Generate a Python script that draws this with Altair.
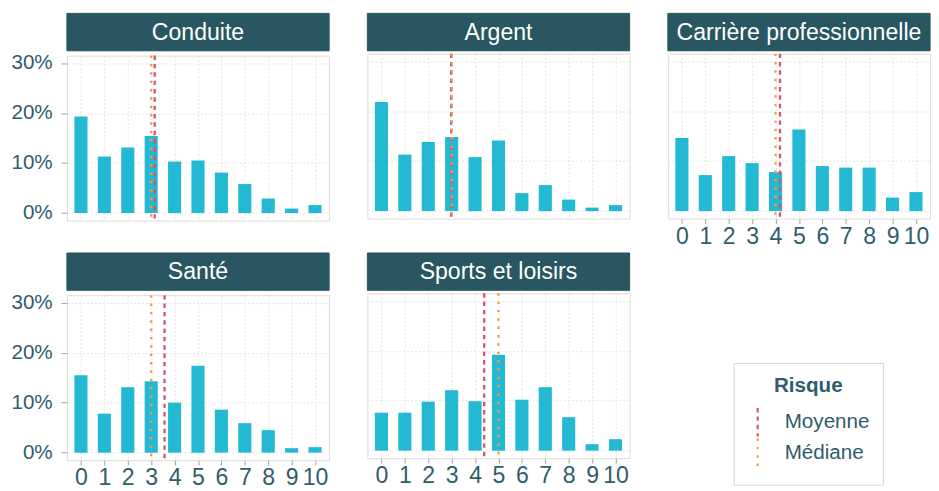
import altair as alt
import pandas as pd

# ---------------- data ----------------
categories = list(range(11))
panels = ["Conduite", "Argent", "Carrière professionnelle", "Santé", "Sports et loisirs"]
conduite = [19.3, 11.3, 13.1, 15.4, 10.3, 10.5, 8.1, 5.8, 2.9, 0.9, 1.6]
argent = [21.8, 11.3, 13.8, 14.8, 10.8, 14.1, 3.6, 5.2, 2.3, 0.7, 1.2]
carriere = [14.6, 7.2, 11.0, 9.6, 7.8, 16.3, 9.0, 8.7, 8.7, 2.7, 3.8]
sante = [15.5, 7.8, 13.1, 14.3, 10.0, 17.4, 8.6, 5.9, 4.5, 0.9, 1.1]
sports = [7.6, 7.6, 9.8, 12.1, 9.9, 19.2, 10.2, 12.7, 6.7, 1.3, 2.3]
means = [3.15, 2.98, 4.19, 3.57, 4.39]
medians = [3, 3, 4, 3, 5]
stat_names = ["Moyenne", "Médiane"]
y_ticks = [0, 0.1, 0.2, 0.3]

series = [conduite, argent, carriere, sante, sports]

rows = []
for p, vals in zip(panels, series):
    for c, v in zip(categories, vals):
        rows.append({"panel": p, "score": c, "pct": v / 100.0})
df = pd.DataFrame(rows)

stat_rows = []
for p, m, md in zip(panels, means, medians):
    stat_rows.append({"panel": p, "stat": stat_names[0], "value": m})
    stat_rows.append({"panel": p, "stat": stat_names[1], "value": md})
stats = pd.DataFrame(stat_rows)

# ---------------- style ----------------
W, H, HH = 267, 168, 38
FONT = "Liberation Sans"
TEXT = "#2f5d6b"
HEAD = "#285661"
BAR = "#24b9d3"
MEAN = "#d4547a"
MED = "#f0a23a"
GRID = "#e3e3e3"
TICK = "#a0a0a0"

xscale = alt.Scale(domain=[-0.6, 10.6], nice=False, zero=False)
yscale = alt.Scale(domain=[-0.015, 0.315], nice=False, zero=False)

legend = alt.Legend(
    title="Risque", orient="none", legendX=679, legendY=356,
    symbolType="M0,-1.45L0,1.45", symbolSize=400, symbolStrokeWidth=2.2,
    titleFont=FONT, titleFontSize=21, titleFontWeight="bold", titleColor=TEXT,
    titleAnchor="middle", titlePadding=15,
    labelFont=FONT, labelFontSize=21, labelColor=TEXT, labelOffset=16,
    padding=13, rowPadding=-9, strokeColor="#d9d5cc", fillColor="white",
)


def header(name):
    base = alt.Chart(pd.DataFrame({"panel": [name]}))
    rect = base.mark_rect(fill=HEAD, stroke=HEAD).encode(
        x=alt.value(0), x2=alt.value(W), y=alt.value(0), y2=alt.value(HH)
    )
    txt = base.mark_text(color="white", fontSize=23.5, font=FONT, baseline="middle").encode(
        text="panel:N", x=alt.value(W / 2), y=alt.value(HH / 2 + 1)
    )
    return alt.layer(rect, txt).properties(width=W, height=HH)


def panel(name, show_x, show_y):
    xaxis = alt.Axis(
        values=categories, format="d", title=None, grid=True, domain=False,
        labels=show_x, ticks=show_x, tickSize=5, tickColor=TICK, labelPadding=1,
        labelFont=FONT, labelFontSize=23.5, labelColor=TEXT, labelOverlap=False,
        labelSeparation=0, gridColor=GRID, gridDash=[2, 2], labelFlush=False,
    )
    yaxis = alt.Axis(
        values=y_ticks, format=".0%", title=None, grid=True, domain=False,
        labels=show_y, ticks=show_y, tickSize=6, tickColor=TICK, labelPadding=9,
        labelFont=FONT, labelFontSize=21, labelColor=TEXT, labelOverlap=False,
        gridColor=GRID, gridDash=[2, 2],
    )
    bars = alt.Chart(df[df.panel == name]).transform_calculate(
        x0="datum.score - 0.28", x1="datum.score + 0.28"
    ).mark_bar(color=BAR).encode(
        x=alt.X("x0:Q", scale=xscale, axis=xaxis),
        x2="x1:Q",
        y=alt.Y("pct:Q", scale=yscale, axis=yaxis),
        y2=alt.datum(0),
    )
    rules = alt.Chart(stats[stats.panel == name]).mark_rule(strokeWidth=2.4).encode(
        x=alt.X("value:Q", scale=xscale, axis=xaxis),
        color=alt.Color("stat:N", scale=alt.Scale(domain=stat_names, range=[MEAN, MED]), legend=legend),
        strokeDash=alt.StrokeDash("stat:N", scale=alt.Scale(domain=stat_names, range=[[4.5, 4], [2.5, 6]]), legend=legend),
    )
    return alt.layer(bars, rules).properties(width=W, height=H)


def block(name, show_x, show_y):
    return alt.vconcat(header(name), panel(name, show_x, show_y), spacing=0)


col1 = alt.vconcat(block("Conduite", False, True), block("Santé", True, True), spacing=29)
col2 = alt.vconcat(block("Argent", False, False), block("Sports et loisirs", True, False), spacing=32)
col3 = block("Carrière professionnelle", True, False)

chart = alt.hconcat(col1, col2, col3, spacing=37).properties(
    padding={"left": 2, "top": 0, "right": 0, "bottom": 0}
).configure_view(stroke="#dcdcdc", strokeWidth=1).configure_axis(labelOverlap=False)

chart.save("out.html", embed_options={"renderer": "svg", "actions": False})
